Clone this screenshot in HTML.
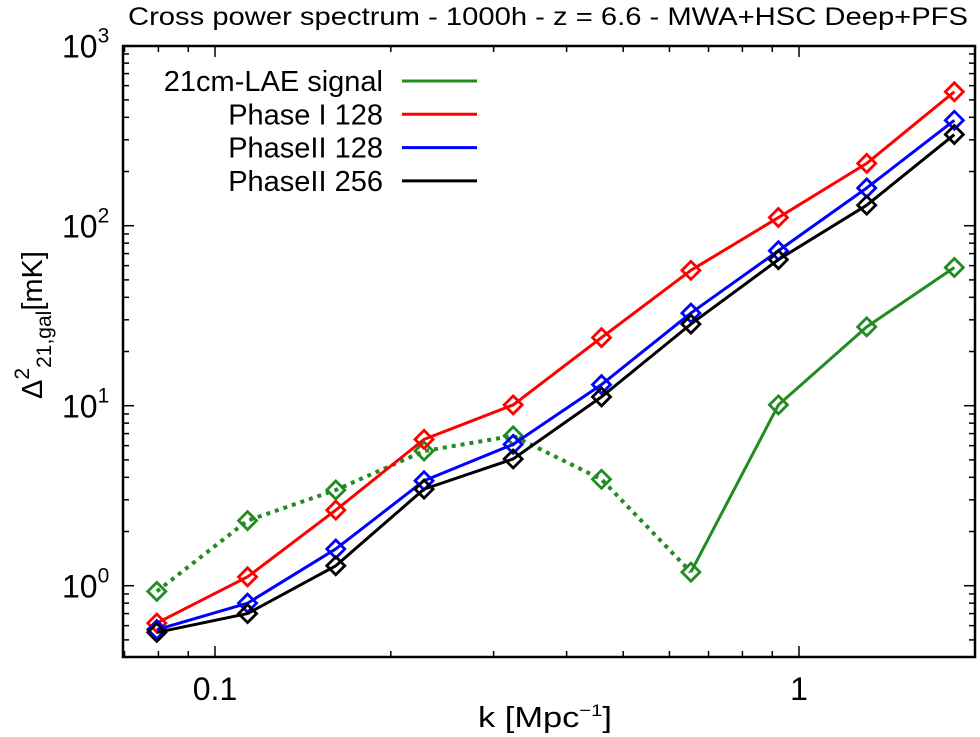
<!DOCTYPE html>
<html><head><meta charset="utf-8">
<style>
html,body{margin:0;padding:0;background:#fff;}
svg{display:block;font-family:"Liberation Sans",sans-serif;}
</style></head>
<body>
<svg id="chart" width="980" height="737" viewBox="0 0 980 737" xmlns="http://www.w3.org/2000/svg">
<text x="128" y="25" font-size="25" textLength="840" lengthAdjust="spacingAndGlyphs">Cross power spectrum - 1000h - z = 6.6 - MWA+HSC Deep+PFS</text>
<g id="ticks"></g>
<g id="series"></g>
<rect x="123" y="46" width="852" height="611" fill="none" stroke="#000" stroke-width="2.5"/>
<g id="labels" font-size="32"></g>
<text x="478" y="727" font-size="29" textLength="134" lengthAdjust="spacingAndGlyphs">k [Mpc<tspan dy="-11" font-size="17">−1</tspan><tspan dy="11">]</tspan></text>
<text transform="translate(42,325) rotate(-90)" font-size="29" text-anchor="middle">Δ<tspan dy="-13" font-size="21">2</tspan><tspan dy="22" font-size="21">21,gal</tspan><tspan dy="-9">[mK]</tspan></text>
<g id="legend" font-size="29"></g>
</svg>
<script>
const kValues = [0.0795, 0.1137, 0.161, 0.228, 0.324, 0.459, 0.653, 0.922, 1.306, 1.845];
const signalValues = [0.93, 2.3, 3.4, 5.6, 6.8, 3.9, 1.19, 10.1, 27.4, 58.6];
const phase1_128 = [0.62, 1.12, 2.63, 6.5, 10.1, 23.9, 56.5, 111, 222, 555];
const phase2_128 = [0.57, 0.80, 1.6, 3.83, 6.1, 13.1, 32.7, 72.6, 162, 385];
const phase2_256 = [0.55, 0.70, 1.29, 3.44, 5.06, 11.2, 28.4, 64.8, 130, 321];
const seriesNames = ["21cm-LAE signal", "Phase I 128", "PhaseII 128", "PhaseII 256"];
const xTickValues = [0.1, 1];
const xTickLabels = ["0.1", "1"];
const yTickExps = [0, 1, 2, 3];

const NS = "http://www.w3.org/2000/svg";
const X0 = 123, X1 = 975, Y0 = 46, Y1 = 657;
function xs(k){ return 215 + 584 * (Math.log10(k) + 1); }
function ys(v){ return 585.7 - 180 * Math.log10(v); }
function mk(tag, attrs, parent){
  const e = document.createElementNS(NS, tag);
  for (const a in attrs) e.setAttribute(a, attrs[a]);
  parent.appendChild(e); return e;
}
const ticks = document.getElementById('ticks');
const labels = document.getElementById('labels');
for (let d = -2; d <= 0; d++) {
  for (let m = 1; m <= 9; m++) {
    const k = m * Math.pow(10, d);
    const x = xs(k);
    if (x < X0 + 1 || x > X1 - 1) continue;
    const len = m === 1 ? 11 : 6;
    const t1 = mk('line', {x1:x, y1:Y1, x2:x, y2:Y1-len, stroke:'#000', 'stroke-width':1.5}, ticks);
    
    
    const t2 = mk('line', {x1:x, y1:Y0, x2:x, y2:Y0+len, stroke:'#000', 'stroke-width':1.5}, ticks);
    
    
  }
}
xTickValues.forEach((v, i) => {
  const t = mk('text', {x: xs(v), y: 700, 'text-anchor':'middle'}, labels);
  t.textContent = xTickLabels[i];
  
  
});
for (let d = -1; d <= 3; d++) {
  for (let m = 1; m <= 9; m++) {
    const v = m * Math.pow(10, d);
    const y = ys(v);
    if (y < Y0 - 0.5 || y > Y1 - 1) continue;
    const len = m === 1 ? 11 : 6;
    const t1 = mk('line', {x1:X0, y1:y, x2:X0+len, y2:y, stroke:'#000', 'stroke-width':1.5}, ticks);
    
    
    const t2 = mk('line', {x1:X1, y1:y, x2:X1-len, y2:y, stroke:'#000', 'stroke-width':1.5}, ticks);
    
    
  }
}
yTickExps.forEach(e => {
  const y = ys(Math.pow(10, e));
  const t = mk('text', {x: 62, y: y + 12, 'text-anchor':'start'}, labels);
  
  
  t.textContent = '10';
  const s = mk('tspan', {dy: -15, 'font-size': 21}, t);
  s.textContent = String(e);
});
const sg = document.getElementById('series');
function diamond(x, y, color, parent){
  const r = 9;
  const d = mk('polygon', {points: `${x},${y-r} ${x+r},${y} ${x},${y+r} ${x-r},${y}`, fill:'none', stroke:color, 'stroke-width':2.8}, parent);
  
  
}
function pts(vals){ return kValues.map((k, i) => [xs(k), ys(vals[i])]); }
function drawLine(p, color, dash, name){
  const l = mk('polyline', {points: p.map(q => q.join(',')).join(' '), fill:'none', stroke:color, 'stroke-width':3, 'stroke-linejoin':'round'}, sg);
  if (dash) { l.setAttribute('stroke-dasharray', '4,5'); l.setAttribute('stroke-width', 4); }
  
  
}
const green = '#228b22';
const gp = pts(signalValues);
drawLine(gp.slice(0, 7), green, true, 'signal-line-negative');
drawLine(gp.slice(6), green, false, 'signal-line-positive');
gp.forEach(q => diamond(q[0], q[1], green, sg));
[[phase1_128, '#ff0000', 'phase1-128-line'], [phase2_128, '#0000ff', 'phase2-128-line'], [phase2_256, '#000000', 'phase2-256-line']].forEach(s => {
  const p = pts(s[0]);
  drawLine(p, s[1], false, s[2]);
  p.forEach(q => diamond(q[0], q[1], s[1], sg));
});
const lg = document.getElementById('legend');
const legendColors = [green, '#ff0000', '#0000ff', '#000000'];
seriesNames.forEach((n, i) => {
  const y = 81 + i * 33.3;
  const t = mk('text', {x: 383, y: y + 10, 'text-anchor':'end'}, lg);
  t.textContent = n;
  
  
  const l = mk('line', {x1: 402, y1: y, x2: 477, y2: y, stroke: legendColors[i], 'stroke-width': 3}, lg);
  
  
});
</script>
</body></html>
